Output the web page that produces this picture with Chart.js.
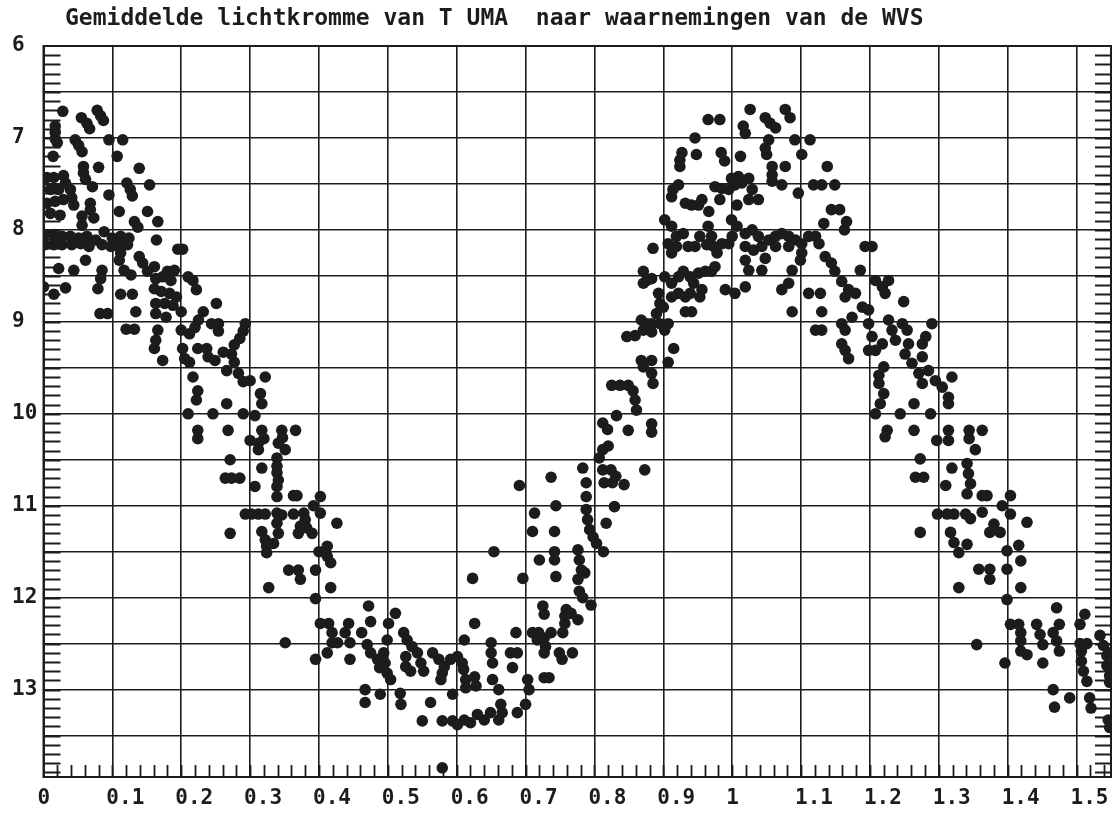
<!DOCTYPE html>
<html>
<head>
<meta charset="utf-8">
<script src="https://cdn.jsdelivr.net/npm/chart.js@4.4.1/dist/chart.umd.min.js"></script>
<style>
  html,body{margin:0;padding:0;background:#fff}
  canvas{display:block}
</style>
</head>
<body>
<canvas id="lichtkromme" width="1120" height="819"></canvas>
<script>
// Gemiddelde lichtkromme van T UMa -- fase (x) tegen visuele magnitude (y, omgekeerd)
const titel = 'Gemiddelde lichtkromme van T UMA  naar waarnemingen van de WVS';

// tick labels zoals op de oorspronkelijke plot
const faseLabels = ['0','0.1','0.2','0.3','0.4','0.5','0.6','0.7','0.8','0.9','1','1.1','1.2','1.3','1.4','1.5'];
const magLabels = ['6','7','8','9','10','11','12','13'];

// waarnemingen [fase, magnitude], afgelezen van de plot
// dalende tak na het maximum (fase 0 - 0.37)
const obsDaling = [
  [0.028,6.71],[0.055,6.78],[0.063,6.84],[0.078,6.70],[0.083,6.76],[0.087,6.81],[0.067,6.90],[0.017,6.87],[0.017,6.94],[0.017,7.01],
  [0.020,7.05],[0.046,7.02],[0.051,7.08],[0.056,7.15],[0.095,7.02],[0.115,7.02],[0.014,7.20],[0.107,7.20],[0.058,7.31],[0.058,7.38],
  [0.061,7.45],[0.080,7.32],[0.139,7.33],[0.121,7.49],[0.126,7.56],[0.129,7.63],[0.154,7.51],[0.071,7.53],[0.095,7.62],
  [0.005,7.43],[0.015,7.43],[0.029,7.41],[0.032,7.49],[0.010,7.56],[0.022,7.56],[0.039,7.56],[0.005,7.71],[0.017,7.69],[0.029,7.67],
  [0.041,7.65],[0.044,7.73],[0.068,7.71],[0.068,7.78],[0.010,7.82],[0.024,7.84],[0.056,7.85],[0.073,7.87],[0.110,7.80],[0.151,7.80],
  [0.166,7.91],[0.132,7.91],[0.137,7.97],[0.056,7.95],[0.088,8.02],
  [0.002,8.05],[0.015,8.05],[0.027,8.07],[0.039,8.07],[0.051,8.09],[0.063,8.07],[0.076,8.11],[0.100,8.09],[0.112,8.07],[0.124,8.09],
  [0.002,8.16],[0.015,8.16],[0.027,8.16],[0.041,8.16],[0.054,8.15],[0.066,8.18],[0.085,8.16],[0.098,8.18],[0.110,8.18],[0.122,8.16],
  [0.164,8.11],[0.195,8.21],[0.202,8.21],[0.061,8.33],[0.112,8.25],[0.022,8.42],[0.044,8.44],[0.085,8.44],[0.083,8.53],[0.079,8.64],
  [0.000,8.62],[0.015,8.70],[0.032,8.63],[0.112,8.70],[0.129,8.70],[0.082,8.91],[0.093,8.91],[0.134,8.89],[0.120,9.08],[0.132,9.08],
  [0.110,8.33],[0.117,8.44],[0.127,8.49],[0.139,8.29],[0.144,8.36],[0.151,8.45],[0.161,8.40],[0.163,8.53],[0.173,8.51],[0.180,8.45],
  [0.185,8.55],[0.190,8.44],[0.161,8.64],[0.171,8.67],[0.183,8.69],[0.193,8.73],[0.163,8.80],[0.176,8.80],[0.188,8.82],[0.200,8.89],
  [0.163,8.91],[0.178,8.95],[0.210,8.51],[0.217,8.55],[0.222,8.65],[0.251,8.80],[0.232,8.89],[0.225,8.98],[0.220,9.06],[0.212,9.13],
  [0.244,9.02],[0.254,9.02],[0.254,9.10],[0.166,9.09],[0.163,9.20],[0.161,9.29],[0.173,9.42],[0.200,9.09],[0.202,9.29],[0.205,9.40],
  [0.212,9.44],[0.224,9.29],[0.237,9.29],[0.239,9.38],[0.249,9.42],[0.293,9.02],[0.290,9.10],[0.285,9.18],[0.277,9.25],[0.273,9.35],
  [0.277,9.44],[0.261,9.33],[0.266,9.53],[0.283,9.56],[0.290,9.65],[0.300,9.64],[0.322,9.60],[0.217,9.60],[0.224,9.75],[0.222,9.85],
  [0.210,10.00],[0.246,10.00],[0.266,9.89],[0.290,10.00],[0.315,9.78],[0.317,9.89],[0.307,10.02],[0.224,10.18],[0.224,10.27],[0.268,10.18],
  [0.300,10.29],[0.317,10.18],[0.320,10.27],[0.346,10.18],[0.347,10.26],[0.366,10.18]
];

// minimum en begin van de stijging (fase 0.26 - 0.88)
const obsMinimum = [
  [0.312,10.32],[0.312,10.39],[0.341,10.32],[0.351,10.39],[0.271,10.50],[0.317,10.59],[0.339,10.48],[0.339,10.57],[0.339,10.64],[0.341,10.72],
  [0.339,10.79],[0.339,10.90],[0.264,10.70],[0.273,10.70],[0.285,10.70],[0.307,10.79],[0.363,10.89],[0.368,10.89],[0.402,10.90],[0.392,11.00],
  [0.293,11.09],[0.302,11.09],[0.312,11.09],[0.322,11.09],[0.339,11.08],[0.346,11.10],[0.363,11.09],[0.378,11.08],[0.380,11.15],[0.373,11.22],
  [0.382,11.24],[0.390,11.30],[0.402,11.08],[0.426,11.19],[0.339,11.19],[0.341,11.30],[0.317,11.28],[0.322,11.37],[0.324,11.44],[0.324,11.51],
  [0.334,11.41],[0.271,11.30],[0.370,11.30],[0.400,11.50],[0.412,11.44],[0.412,11.55],[0.417,11.62],[0.395,11.70],[0.395,12.01],[0.356,11.70],
  [0.370,11.70],[0.373,11.80],[0.327,11.89],[0.417,11.89],[0.351,12.49],[0.395,12.67],
  [0.402,12.28],[0.414,12.28],[0.419,12.38],[0.419,12.49],[0.427,12.49],[0.412,12.60],[0.472,12.09],[0.443,12.28],[0.438,12.38],[0.445,12.49],
  [0.445,12.67],[0.462,12.38],[0.470,12.51],[0.475,12.60],[0.475,12.26],[0.501,12.28],[0.511,12.17],[0.499,12.46],[0.494,12.60],[0.496,12.71],
  [0.499,12.82],[0.504,12.89],[0.485,12.67],[0.488,12.76],[0.523,12.38],[0.528,12.46],[0.535,12.53],[0.543,12.60],[0.548,12.71],[0.552,12.80],
  [0.526,12.64],[0.526,12.75],[0.533,12.80],[0.467,13.00],[0.467,13.14],[0.489,13.05],[0.518,13.04],[0.519,13.16],[0.565,12.60],[0.574,12.67],
  [0.582,12.75],[0.591,12.67],[0.601,12.64],[0.608,12.71],[0.610,12.78],[0.579,12.82],[0.577,12.89],[0.594,13.05],[0.562,13.14],[0.550,13.34],
  [0.579,13.34],[0.594,13.34],[0.601,13.38],[0.611,13.33],[0.620,13.36],[0.630,13.27],[0.640,13.33],[0.649,13.25],[0.661,13.33],[0.664,13.16],
  [0.666,13.25],[0.579,13.85],[0.613,12.98],[0.613,12.89],[0.626,12.86],[0.628,12.96],[0.650,12.49],[0.650,12.60],[0.652,12.71],[0.652,12.89],
  [0.661,13.00],[0.626,12.28],[0.611,12.46],[0.686,12.38],[0.678,12.60],[0.688,12.60],[0.681,12.76],[0.688,13.25],[0.700,13.16],[0.705,13.00],
  [0.703,12.89],[0.710,12.38],[0.719,12.38],[0.717,12.46],[0.727,12.44],[0.729,12.53],[0.737,12.38],[0.727,12.60],[0.727,12.87],[0.734,12.87],
  [0.749,12.60],[0.753,12.67],[0.768,12.60],[0.754,12.38],[0.757,12.28],[0.757,12.20],[0.759,12.13],[0.766,12.17],[0.776,12.24],[0.725,12.09],
  [0.727,12.18],[0.778,11.93],[0.783,12.00],[0.795,12.08],[0.776,11.80],[0.786,11.73],
  [0.623,11.79],[0.691,10.78],[0.696,11.79],[0.654,11.50],[0.713,11.08],[0.710,11.28],[0.737,10.69],[0.744,11.00],[0.742,11.28],[0.742,11.50],
  [0.742,11.59],[0.744,11.77],[0.720,11.59],[0.776,11.48],[0.778,11.59],[0.781,11.70],[0.783,10.59],[0.788,10.75],[0.788,10.90],[0.788,11.04],
  [0.790,11.15],[0.793,11.26],[0.798,11.34],[0.803,11.41],[0.813,11.50],[0.817,11.19],[0.829,11.01],[0.812,10.39],[0.807,10.48],[0.812,10.61],
  [0.824,10.61],[0.831,10.68],[0.814,10.75],[0.826,10.75],[0.843,10.77],[0.812,10.10],[0.819,10.17],[0.873,10.61]
];

// stijging, maximum en dalende tak (fase 0.82 - 1.36)
const obsMaximum = [
  [0.820,10.35],[0.832,10.02],[0.849,10.18],[0.883,10.11],[0.883,10.20],
  [0.825,9.69],[0.837,9.69],[0.849,9.69],[0.856,9.75],[0.859,9.85],[0.861,9.96],
  [0.868,9.42],[0.871,9.49],[0.883,9.42],[0.883,9.56],[0.885,9.67],
  [0.847,9.16],[0.859,9.15],[0.871,9.09],[0.883,9.11],[0.907,9.44],[0.915,9.29],
  [0.868,8.98],[0.876,9.02],[0.883,9.02],[0.871,8.45],[0.876,8.55],[0.883,8.53],[0.871,8.58],[0.885,8.20],
  [0.893,8.69],[0.895,8.80],[0.890,8.91],[0.895,9.02],[0.902,9.09],[0.907,9.02],[0.900,8.84],
  [0.902,8.51],[0.912,8.58],[0.922,8.51],[0.912,8.73],[0.922,8.69],[0.932,8.73],[0.941,8.89],[0.932,8.89],
  [0.902,7.89],[0.912,7.96],[0.907,8.15],[0.912,8.25],[0.919,8.07],[0.919,8.18],[0.929,8.04],[0.936,8.18],[0.946,8.18],[0.953,8.07],[0.963,8.16],
  [0.929,8.45],[0.939,8.51],[0.944,8.58],[0.951,8.47],[0.961,8.45],[0.970,8.45],[0.956,8.65],[0.953,8.73],[0.939,8.69],
  [0.914,7.56],[0.912,7.64],[0.922,7.51],[0.924,7.31],[0.924,7.24],[0.927,7.16],[0.948,7.18],[0.946,7.00],
  [0.932,7.71],[0.941,7.73],[0.951,7.73],[0.956,7.67],[0.966,7.80],
  [0.965,6.80],[0.982,6.80],[0.984,7.16],[0.989,7.25],
  [0.965,7.96],[0.970,8.07],[0.973,8.18],[0.978,8.25],[0.985,8.15],[0.995,8.15],[1.000,8.07],
  [0.975,7.53],[0.985,7.55],[0.982,7.67],[0.995,7.56],[1.009,7.42],[1.014,7.49],[1.024,7.44],[1.029,7.56],[1.038,7.67],
  [1.012,7.20],[1.019,6.95],[1.016,6.87],[1.026,6.69],
  [1.048,6.78],[1.055,6.84],[1.063,6.89],[1.077,6.69],[1.084,6.78],[1.053,7.02],[1.048,7.11],[1.050,7.18],
  [1.058,7.31],[1.058,7.40],[1.058,7.47],[1.077,7.31],[1.072,7.51],[1.091,7.02],[1.113,7.02],[1.101,7.18],
  [1.138,7.31],[1.130,7.51],[1.149,7.51],[1.118,7.51],[1.096,7.60],
  [0.999,7.44],[1.004,7.51],[1.024,7.67],[1.007,7.73],[0.999,7.89],[1.007,7.96],
  [1.019,8.04],[1.029,8.00],[1.038,8.07],[1.043,8.18],[1.053,8.11],[1.063,8.07],[1.072,8.04],[1.082,8.07],[1.092,8.11],[1.101,8.15],
  [1.111,8.07],[1.121,8.07],[1.126,8.15],[1.019,8.18],[1.031,8.22],[1.063,8.18],[1.082,8.18],[1.101,8.25],[1.019,8.33],[1.048,8.31],
  [0.975,8.40],[1.024,8.44],[1.043,8.44],[1.087,8.44],[1.082,8.58],[1.072,8.65],[1.099,8.33],[0.990,8.65],[1.004,8.69],[1.019,8.62],
  [1.111,8.69],[1.128,8.69],[1.130,8.89],[1.087,8.89],[1.121,9.09],[1.130,9.09],
  [1.133,7.93],[1.144,7.78],[1.156,7.78],[1.166,7.91],[1.163,8.00],[1.193,8.18],[1.203,8.18],
  [1.135,8.29],[1.144,8.36],[1.149,8.45],[1.159,8.56],[1.169,8.65],[1.164,8.73],[1.179,8.69],[1.186,8.44],[1.189,8.84],[1.198,8.87],
  [1.208,8.55],[1.218,8.62],[1.222,8.69],[1.227,8.55],[1.249,8.78],
  [1.159,9.02],[1.164,9.09],[1.159,9.24],[1.164,9.31],[1.169,9.40],[1.174,8.95],
  [1.198,9.02],[1.203,9.16],[1.198,9.31],[1.208,9.31],[1.218,9.24],[1.227,8.98],[1.232,9.09],[1.237,9.20],[1.247,9.02],[1.254,9.09],[1.256,9.24],
  [1.276,9.24],[1.281,9.16],[1.290,9.02],[1.276,9.38],
  [1.251,9.35],[1.261,9.45],[1.271,9.56],[1.276,9.67],[1.285,9.53],[1.295,9.64],[1.305,9.71],[1.314,9.82],[1.319,9.60],[1.314,9.89],
  [1.213,9.58],[1.213,9.67],[1.220,9.78],[1.215,9.89],[1.220,9.49],[1.208,10.00],[1.225,10.18],[1.222,10.25],
  [1.244,10.00],[1.264,9.89],[1.288,10.00],[1.264,10.18],
  [1.314,10.18],[1.314,10.29],[1.297,10.29],[1.344,10.18],[1.344,10.27],[1.363,10.18]
];

// tweede daling tot aan de rand (fase 1.26 - 1.55)
const obsTweedeDaling = [
  [1.273,10.49],[1.266,10.69],[1.278,10.69],[1.310,10.78],[1.319,10.59],[1.353,10.39],
  [1.341,10.54],[1.343,10.65],[1.346,10.76],[1.341,10.87],[1.363,10.89],[1.370,10.89],[1.404,10.89],[1.392,11.00],
  [1.298,11.09],[1.312,11.09],[1.322,11.09],[1.339,11.09],[1.346,11.14],[1.363,11.07],[1.380,11.20],[1.404,11.09],
  [1.273,11.29],[1.317,11.29],[1.322,11.40],[1.329,11.51],[1.341,11.42],[1.374,11.29],[1.389,11.29],[1.428,11.18],
  [1.399,11.49],[1.416,11.43],[1.419,11.60],[1.358,11.69],[1.374,11.69],[1.374,11.80],[1.399,11.69],
  [1.329,11.89],[1.419,11.89],[1.399,12.02],[1.471,12.11],[1.512,12.18],[1.505,12.29],
  [1.404,12.29],[1.416,12.29],[1.419,12.38],[1.419,12.47],[1.419,12.58],[1.428,12.62],
  [1.442,12.29],[1.447,12.40],[1.451,12.51],[1.466,12.38],[1.471,12.47],[1.475,12.58],[1.475,12.29],
  [1.355,12.51],[1.396,12.71],[1.451,12.71],
  [1.505,12.50],[1.515,12.50],[1.507,12.58],[1.507,12.69],[1.510,12.80],[1.515,12.91],[1.534,12.41],[1.539,12.52],[1.544,12.63],
  [1.548,12.60],[1.544,12.74],[1.548,12.85],[1.548,12.92],
  [1.466,13.00],[1.468,13.19],[1.490,13.09],[1.519,13.09],[1.521,13.20],[1.546,13.33],[1.548,13.41]
];

const inkt = '#1c1c1c';
const lettertype = "'DejaVu Sans Mono', 'Liberation Mono', monospace";

const punten = [...obsDaling, ...obsMinimum, ...obsMaximum, ...obsTweedeDaling].map(p => ({x: p[0], y: p[1]}));

// kader rechts/boven, kleine streepjes langs de assen en de titel
const kaderPlugin = {
  id: 'kader',
  afterDraw(chart) {
    const {ctx, chartArea: {left, right, top, bottom}, scales: {x, y}} = chart;
    ctx.save();
    ctx.strokeStyle = inkt;
    ctx.lineWidth = 2;
    ctx.strokeRect(left, top, right - left, bottom - top);
    ctx.lineWidth = 1.8;
    ctx.beginPath();
    for (let i = 1; 6 + i * 0.1 < y.max; i++) {
      const py = Math.round(y.getPixelForValue(6 + i * 0.1)) + 0.5;
      ctx.moveTo(left, py); ctx.lineTo(left + 17, py);
      ctx.moveTo(right - 16, py); ctx.lineTo(right, py);
    }
    for (let i = 1; i * 0.02 < x.max; i++) {
      const px = Math.round(x.getPixelForValue(i * 0.02)) + 0.5;
      ctx.moveTo(px, bottom); ctx.lineTo(px, bottom - 12);
    }
    ctx.stroke();
    ctx.font = 'bold 23px ' + lettertype;
    ctx.fillStyle = inkt;
    ctx.textBaseline = 'middle';
    ctx.fillText(titel, 65, 19);
    ctx.restore();
  }
};

new Chart(document.getElementById('lichtkromme').getContext('2d'), {
  type: 'scatter',
  data: {datasets: [{
    data: punten,
    pointRadius: 5.8,
    pointBackgroundColor: inkt,
    pointBorderWidth: 0,
    pointHoverRadius: 5.8
  }]},
  options: {
    responsive: false,
    animation: false,
    events: [],
    layout: {padding: {left: 12, right: 9, top: 46, bottom: 0}},
    plugins: {legend: {display: false}, title: {display: false}, tooltip: {enabled: false}},
    scales: {
      x: {
        type: 'linear', min: 0, max: 1.55,
        grid: {color: inkt, lineWidth: 1.6, drawTicks: false},
        border: {display: true, color: inkt, width: 2},
        ticks: {
          stepSize: 0.1, includeBounds: false, autoSkip: false, maxRotation: 0, minRotation: 0,
          align: 'start', labelOffset: -6, padding: 9, color: inkt,
          font: {family: lettertype, size: 21, weight: 'bold'},
          callback: (v, i) => faseLabels[i]
        },
        afterFit: s => { s.height = 42; s.paddingLeft = 0; s.paddingRight = 0; }
      },
      y: {
        type: 'linear', reverse: true, min: 6, max: 13.95,
        grid: {color: inkt, lineWidth: 1.6, drawTicks: false},
        border: {display: true, color: inkt, width: 2},
        ticks: {
          stepSize: 0.5, includeBounds: false, autoSkip: false, crossAlign: 'far', color: inkt,
          font: {family: lettertype, size: 21, weight: 'bold'},
          callback: v => {
            const n = Math.round(v);
            return Math.abs(v - n) < 1e-6 ? magLabels[n - 6] : '';
          }
        },
        afterFit: s => { s.width = 31.5; }
      }
    }
  },
  plugins: [kaderPlugin]
});
</script>
</body>
</html>
